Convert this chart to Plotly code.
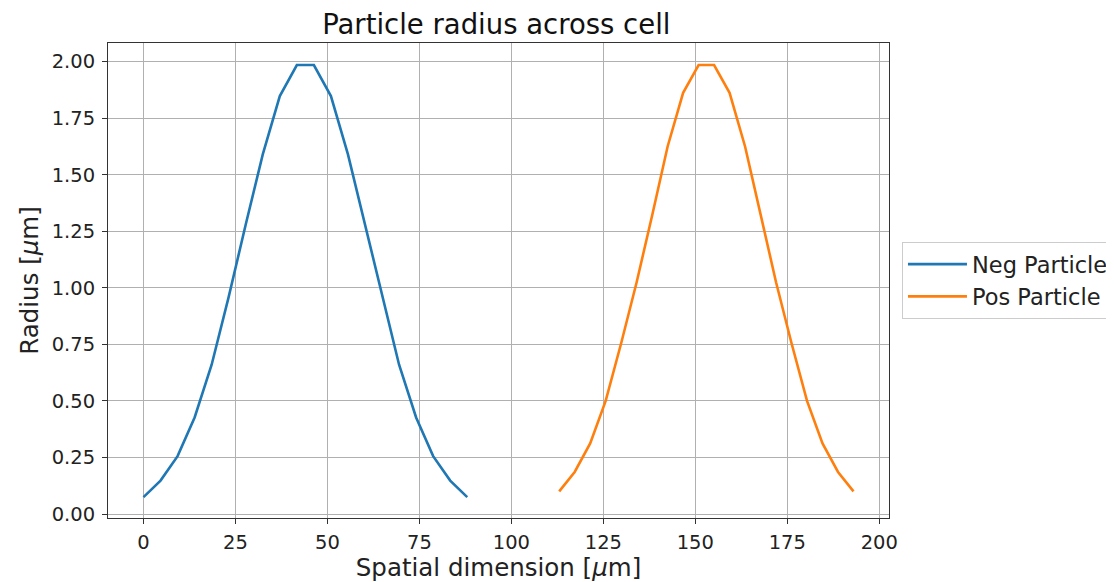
import numpy as np
import plotly.graph_objects as go

# Data
neg_x = list(np.linspace(0, 88, 20))
neg_r = [0.075, 0.148, 0.256, 0.427, 0.66, 0.96, 1.28, 1.59, 1.848, 1.985,
         1.985, 1.848, 1.59, 1.28, 0.96, 0.66, 0.427, 0.256, 0.148, 0.075]
pos_x = list(np.linspace(113, 193, 20))
pos_r = [0.10, 0.186, 0.312, 0.50, 0.755, 1.025, 1.32, 1.625, 1.862, 1.985,
         1.985, 1.862, 1.625, 1.32, 1.025, 0.755, 0.50, 0.312, 0.186, 0.10]
x_ticks = [0, 25, 50, 75, 100, 125, 150, 175, 200]
y_ticks = [0.0, 0.25, 0.5, 0.75, 1.0, 1.25, 1.5, 1.75, 2.0]

font = "DejaVu Sans"
W, H = 1106, 574
fig = go.Figure()
fig.add_trace(go.Scatter(x=neg_x, y=neg_r, mode="lines", name="Neg Particle",
                         line=dict(color="#1f77b4", width=2.6)))
fig.add_trace(go.Scatter(x=pos_x, y=pos_r, mode="lines", name="Pos Particle",
                         line=dict(color="#ff7f0e", width=2.6)))

axis_common = dict(showgrid=True, gridcolor="#b0b0b0", gridwidth=1,
                   showline=True, linecolor="#333333", linewidth=1, mirror=True,
                   ticks="outside", ticklen=5, tickcolor="#333333",
                   tickfont=dict(family=font, size=19.5, color="#222222"),
                   zeroline=False, automargin=False)

fig.update_layout(
    width=W, height=H,
    margin=dict(l=100, r=225, t=35, b=64, autoexpand=False),
    paper_bgcolor="white", plot_bgcolor="white",
    font=dict(family=font, color="#222222"),
    title=dict(text="Particle radius across cell", x=0.4415, xref="container",
               xanchor="center", y=1 - 16 / H, yref="container", yanchor="middle",
               font=dict(family=font, size=27.5, color="#111111")),
    xaxis=dict(range=[-9.65, 202.65], tickvals=x_ticks, ticklabelstandoff=2,
               title=dict(text="Spatial dimension [<i>μ</i>m]", standoff=8,
                          font=dict(family=font, size=24.5, color="#222222")),
               **axis_common),
    yaxis=dict(range=[-0.0175, 2.0825], tickvals=y_ticks, tickformat=".2f",
               ticklabelstandoff=3,
               title=dict(text="Radius [<i>μ</i>m]", standoff=6,
                          font=dict(family=font, size=24.5, color="#222222")),
               **axis_common),
    legend=dict(x=1.0166, y=0.5, xanchor="left", yanchor="middle",
                bordercolor="#cccccc", borderwidth=1, bgcolor="white",
                itemwidth=59,
                font=dict(family=font, size=22.5, color="#222222")),
)

fig.write_html("out.html")
